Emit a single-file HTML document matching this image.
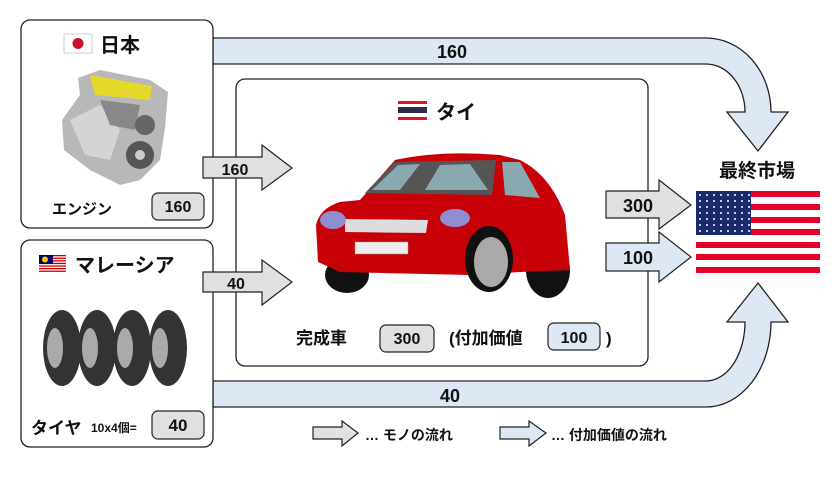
<!DOCTYPE html>
<html><head><meta charset="utf-8"><style>
body{margin:0;width:840px;height:473px;background:#fff;overflow:hidden}
text{font-family:"Liberation Sans","Noto Sans CJK JP",sans-serif;font-weight:bold;fill:#111}
</style></head><body>
<svg width="840" height="473" viewBox="0 0 840 473" xmlns="http://www.w3.org/2000/svg">
<defs>
<pattern id="st" x="698" y="193" width="7" height="6" patternUnits="userSpaceOnUse"><circle cx="2" cy="2" r="1" fill="#fff"/></pattern>
</defs>
<path d="M213,38 H706 A65,74 0 0 1 771,112 H788 L758,151 L727,112 H745 A39,48 0 0 0 706,64 H213 Z" fill="#dde8f4" stroke="#222" stroke-width="1.3"/>
<text x="452" y="58" font-size="18" text-anchor="middle">160</text>
<path d="M213,407 H706 A65,85 0 0 0 771,322 H788 L758,283 L727,322 H745 A39,59 0 0 1 706,381 H213 Z" fill="#dde8f4" stroke="#222" stroke-width="1.3"/>
<text x="450" y="402" font-size="18" text-anchor="middle">40</text>
<rect x="21" y="20" width="192" height="208" rx="9" fill="#fff" stroke="#222" stroke-width="1.3"/>
<rect x="64" y="34" width="28" height="19" fill="#fff" stroke="#ccc"/>
<circle cx="78" cy="43.5" r="5.5" fill="#c8102e"/>
<text x="100" y="52" font-size="20">日本</text>
<g>
<path d="M62,120 L80,95 L78,78 L100,70 L150,80 L168,92 L165,128 L160,160 L140,180 L120,185 L90,170 L64,150 Z" fill="#b8b8b8"/>
<path d="M90,75 L152,86 L150,100 L95,95 Z" fill="#e6d82a"/>
<path d="M70,120 L100,105 L120,130 L110,160 L85,155 Z" fill="#d4d4d4"/>
<path d="M100,100 L140,105 L135,130 L110,125 Z" fill="#888"/>
<circle cx="140" cy="155" r="14" fill="#555"/><circle cx="145" cy="125" r="10" fill="#666"/>
<circle cx="140" cy="155" r="5" fill="#ccc"/>
</g>
<text x="52" y="214" font-size="15">エンジン</text>
<rect x="152" y="193" width="52" height="27" rx="6" fill="#e0e0e0" stroke="#222" stroke-width="1.2"/>
<text x="178" y="212" font-size="16" text-anchor="middle">160</text>
<rect x="21" y="240" width="192" height="207" rx="9" fill="#fff" stroke="#222" stroke-width="1.3"/>
<g>
<rect x="39" y="255" width="27" height="17" fill="#fff"/>
<rect x="39" y="255" width="27" height="1.3" fill="#cc0001"/><rect x="39" y="257.6" width="27" height="1.3" fill="#cc0001"/>
<rect x="39" y="260.2" width="27" height="1.3" fill="#cc0001"/><rect x="39" y="262.8" width="27" height="1.3" fill="#cc0001"/>
<rect x="39" y="265.4" width="27" height="1.3" fill="#cc0001"/><rect x="39" y="268" width="27" height="1.3" fill="#cc0001"/>
<rect x="39" y="270.6" width="27" height="1.3" fill="#cc0001"/>
<rect x="39" y="255" width="14" height="9" fill="#010066"/>
<circle cx="45" cy="259.5" r="3" fill="#fc0"/>
</g>
<text x="75" y="272" font-size="20">マレーシア</text>
<g fill="#333">
<ellipse cx="62" cy="348" rx="19" ry="38"/><ellipse cx="97" cy="348" rx="19" ry="38"/>
<ellipse cx="132" cy="348" rx="19" ry="38"/><ellipse cx="168" cy="348" rx="19" ry="38"/>
</g>
<g fill="#aaa"><ellipse cx="55" cy="348" rx="8" ry="20"/><ellipse cx="90" cy="348" rx="8" ry="20"/><ellipse cx="125" cy="348" rx="8" ry="20"/><ellipse cx="160" cy="348" rx="8" ry="20"/></g>
<text x="31" y="434" font-size="17">タイヤ</text>
<text x="91" y="432" font-size="12">10x4個=</text>
<rect x="152" y="411" width="52" height="28" rx="6" fill="#e0e0e0" stroke="#222" stroke-width="1.2"/>
<text x="178" y="431" font-size="17" text-anchor="middle">40</text>
<rect x="236" y="79" width="412" height="287" rx="9" fill="#fff" stroke="#222" stroke-width="1.3"/>
<g>
<rect x="398" y="101" width="29" height="19" fill="#fff"/>
<rect x="398" y="101" width="29" height="3" fill="#e0112b"/><rect x="398" y="117" width="29" height="3" fill="#e0112b"/>
<rect x="398" y="107" width="29" height="6" fill="#2d2a4a"/>
</g>
<text x="436" y="119" font-size="20">タイ</text>
<g>
<ellipse cx="347" cy="275" rx="22" ry="18" fill="#111"/>
<ellipse cx="548" cy="270" rx="22" ry="28" fill="#111"/>
<path d="M360,200 L395,160 Q440,150 500,155 L520,160 Q550,175 565,215 L570,270 L520,272 L470,275 L340,272 L318,262 L316,225 Q320,208 340,202 Z" fill="#c80008"/>
<path d="M365,193 L395,162 L496,160 L492,195 Z" fill="#555"/>
<path d="M372,190 L398,165 L420,164 L400,190 Z M425,190 L440,165 L470,164 L488,190 Z" fill="#8aa8b0"/>
<path d="M502,162 L520,162 L540,198 L505,195 Z" fill="#8aa8b0"/>
<ellipse cx="489" cy="259" rx="24" ry="33" fill="#111"/>
<ellipse cx="491" cy="262" rx="17" ry="25" fill="#aaa"/>
<path d="M345,219 L428,220 L426,233 L345,232 Z" fill="#ddd"/>
<rect x="355" y="242" width="53" height="12" fill="#eee" stroke="#999" stroke-width=".5"/>
<ellipse cx="333" cy="220" rx="13" ry="9" fill="#8e8ed0"/>
<ellipse cx="455" cy="218" rx="15" ry="9" fill="#8e8ed0"/>
</g>
<text x="296" y="344" font-size="17">完成車</text>
<rect x="380" y="325" width="54" height="27" rx="6" fill="#e0e0e0" stroke="#222" stroke-width="1.2"/>
<text x="407" y="344" font-size="16" text-anchor="middle">300</text>
<text x="449" y="344" font-size="17">(付加価値</text>
<rect x="548" y="323" width="52" height="27" rx="6" fill="#dde8f4" stroke="#222" stroke-width="1.2"/>
<text x="574" y="343" font-size="16" text-anchor="middle">100</text>
<text x="606" y="344" font-size="17">)</text>
<path d="M203,157 H262 V145 L292,168 L262,190 V178 H203 Z" fill="#e0e0e0" stroke="#222" stroke-width="1.2"/>
<text x="235" y="175" font-size="16" text-anchor="middle">160</text>
<path d="M203,272 H262 V260 L292,282 L262,305 V292 H203 Z" fill="#e0e0e0" stroke="#222" stroke-width="1.2"/>
<text x="236" y="289" font-size="16" text-anchor="middle">40</text>
<path d="M606,191 H659 V180 L691,205 L659,229 V218 H606 Z" fill="#e0e0e0" stroke="#222" stroke-width="1.2"/>
<text x="638" y="212" font-size="18" text-anchor="middle">300</text>
<path d="M606,243 H659 V232 L691,257 L659,282 V271 H606 Z" fill="#dde8f4" stroke="#222" stroke-width="1.2"/>
<text x="638" y="264" font-size="18" text-anchor="middle">100</text>
<text x="757" y="177" font-size="19" text-anchor="middle">最終市場</text>
<g>
<rect x="696" y="191" width="124" height="83" fill="#fff"/>
<rect x="696" y="191" width="124" height="6" fill="#e4002b"/><rect x="696" y="204" width="124" height="6" fill="#e4002b"/>
<rect x="696" y="217" width="124" height="6" fill="#e4002b"/><rect x="696" y="229" width="124" height="6" fill="#e4002b"/>
<rect x="696" y="242" width="124" height="6" fill="#e4002b"/><rect x="696" y="254" width="124" height="6" fill="#e4002b"/>
<rect x="696" y="267" width="124" height="6" fill="#e4002b"/>
<rect x="696" y="191" width="55" height="44" fill="#1a2a6c"/>
<rect x="696" y="191" width="55" height="44" fill="url(#st)"/>
</g>
<path d="M313,427 H342 V421 L358,433 L342,446 V439 H313 Z" fill="#e0e0e0" stroke="#222" stroke-width="1.2"/>
<text x="365" y="440" font-size="14">… モノの流れ</text>
<path d="M500,427 H529 V421 L546,433 L529,446 V439 H500 Z" fill="#dde8f4" stroke="#222" stroke-width="1.2"/>
<text x="551" y="440" font-size="14">… 付加価値の流れ</text>
</svg>
</body></html>
